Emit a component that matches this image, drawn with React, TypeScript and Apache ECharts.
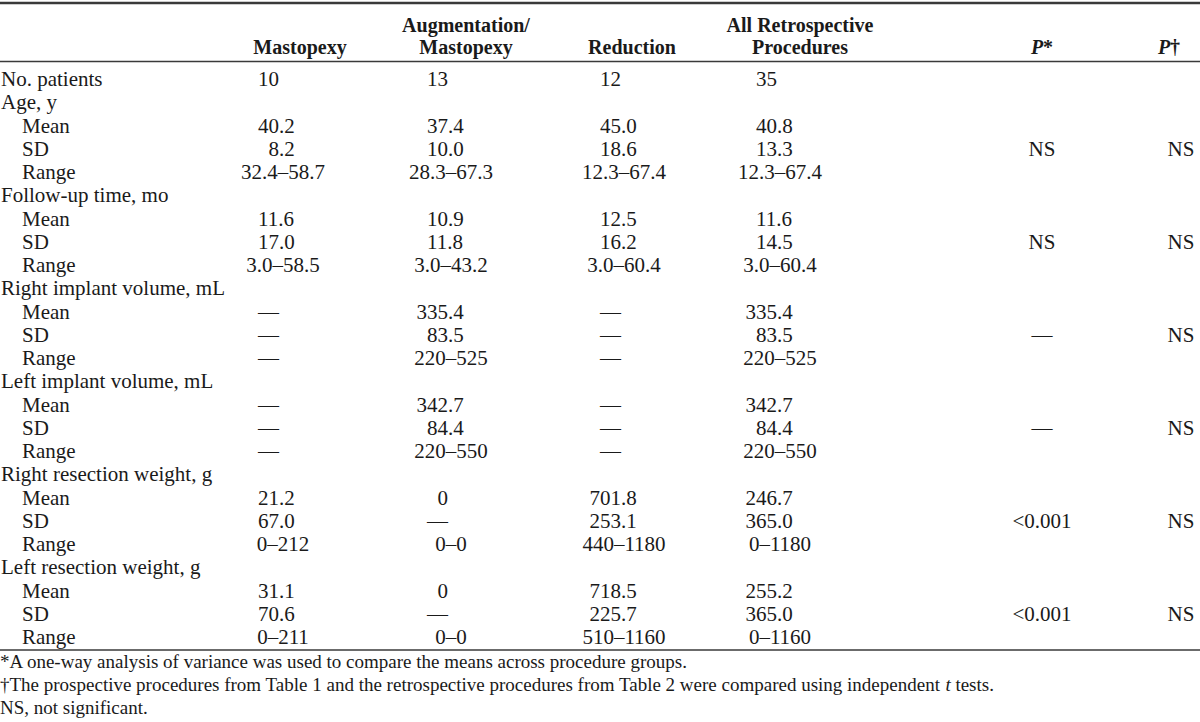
import React, { useEffect, useRef } from "react";
import * as echarts from "echarts";

// ---- Data ----
const headerLine1 = ["", "Augmentation/", "", "All Retrospective", "", ""];
const headerLine2 = ["Mastopexy", "Mastopexy", "Reduction", "Procedures", "{pi|P}{b|*}", "{pi|P}{b|†}"];

const patientsLabel = "No. patients";
const patients = ["10", "13", "12", "35", "", ""];

const groupTitles = [
  "Age, y",
  "Follow-up time, mo",
  "Right implant volume, mL",
  "Left implant volume, mL",
  "Right resection weight, g",
  "Left resection weight, g",
];
const statLabels = ["Mean", "SD", "Range"];

const ageY = [
  ["40.2", "37.4", "45.0", "40.8", "", ""],
  ["8.2", "10.0", "18.6", "13.3", "NS", "NS"],
  ["32.4–58.7", "28.3–67.3", "12.3–67.4", "12.3–67.4", "", ""],
];
const followUp = [
  ["11.6", "10.9", "12.5", "11.6", "", ""],
  ["17.0", "11.8", "16.2", "14.5", "NS", "NS"],
  ["3.0–58.5", "3.0–43.2", "3.0–60.4", "3.0–60.4", "", ""],
];
const rightImplant = [
  ["—", "335.4", "—", "335.4", "", ""],
  ["—", "83.5", "—", "83.5", "—", "NS"],
  ["—", "220–525", "—", "220–525", "", ""],
];
const leftImplant = [
  ["—", "342.7", "—", "342.7", "", ""],
  ["—", "84.4", "—", "84.4", "—", "NS"],
  ["—", "220–550", "—", "220–550", "", ""],
];
const rightResection = [
  ["21.2", "0", "701.8", "246.7", "", ""],
  ["67.0", "—", "253.1", "365.0", "<0.001", "NS"],
  ["0–212", "0–0", "440–1180", "0–1180", "", ""],
];
const leftResection = [
  ["31.1", "0", "718.5", "255.2", "", ""],
  ["70.6", "—", "225.7", "365.0", "<0.001", "NS"],
  ["0–211", "0–0", "510–1160", "0–1160", "", ""],
];
const groupValues = [ageY, followUp, rightImplant, leftImplant, rightResection, leftResection];

const footnotes = [
  "*A one-way analysis of variance was used to compare the means across procedure groups.",
  "†The prospective procedures from Table 1 and the retrospective procedures from Table 2 were compared using independent {i|t} tests.",
  "NS, not significant.",
];

// ---- Layout ----
const FONT = '"Liberation Serif", "Times New Roman", serif';
const FS = 21;
const HEAD_FS = 20;
const FOOT_FS = 19;
const TEXT = "#1a1a1a";
const colDec = [279, 448, 621, 777];
const colCenter = [283, 451, 624, 780, 1042, 1181];
const headCenter = [300, 466, 632, 800, 1042, 1169];
const ROW0 = 79;
const STEP = 23.25;
const HEAD1 = 25;
const HEAD2 = 47;

function cellElement(v: string, col: number, y: number) {
  let x = colCenter[col];
  let align = "center";
  if (col < 4) {
    const d = colDec[col];
    if (v.includes("–")) {
      x = colCenter[col];
      align = "center";
    } else if (v.includes(".")) {
      const nInt = v.split(".")[0].length;
      x = d - nInt * FS * 0.5;
      align = "left";
    } else {
      x = d;
      align = "right";
    }
  }
  return {
    type: "text",
    x,
    y,
    silent: true,
    style: {
      text: v,
      fill: TEXT,
      fontFamily: FONT,
      fontSize: FS,
      align,
      verticalAlign: "middle",
    },
  };
}

function labelElement(t: string, indent: boolean, y: number) {
  return {
    type: "text",
    x: indent ? 22 : 1,
    y,
    silent: true,
    style: { text: t, fill: TEXT, fontFamily: FONT, fontSize: FS, align: "left", verticalAlign: "middle" },
  };
}

function buildElements() {
  const els: any[] = [];
  // rules
  els.push({ type: "line", shape: { x1: 0, y1: 3, x2: 1200, y2: 3 }, style: { stroke: "#3a3a3a", lineWidth: 2.5 } });
  els.push({ type: "line", shape: { x1: 0, y1: 61.5, x2: 1200, y2: 61.5 }, style: { stroke: "#3a3a3a", lineWidth: 1.5 } });
  els.push({ type: "line", shape: { x1: 0, y1: 650, x2: 1200, y2: 650 }, style: { stroke: "#3a3a3a", lineWidth: 1.5 } });

  // header
  headerLine1.forEach((h, i) => {
    if (!h) return;
    els.push({
      type: "text", x: headCenter[i], y: HEAD1, silent: true,
      style: { text: h, fill: TEXT, fontFamily: FONT, fontSize: HEAD_FS, fontWeight: "bold", align: "center", verticalAlign: "middle" },
    });
  });
  headerLine2.forEach((h, i) => {
    els.push({
      type: "text", x: headCenter[i], y: HEAD2, silent: true,
      style: {
        text: h, fill: TEXT, fontFamily: FONT, fontSize: HEAD_FS, fontWeight: "bold", align: "center", verticalAlign: "middle",
        rich: {
          pi: { fontFamily: FONT, fontSize: HEAD_FS, fontWeight: "bold", fontStyle: "italic", fill: TEXT },
          b: { fontFamily: FONT, fontSize: HEAD_FS, fontWeight: "bold", fill: TEXT },
        },
      },
    });
  });

  let r = 0;
  const yOf = (k: number) => ROW0 + k * STEP;
  els.push(labelElement(patientsLabel, false, yOf(r)));
  patients.forEach((v, c) => { if (v) els.push(cellElement(v, c, yOf(r))); });
  r++;
  groupTitles.forEach((g, gi) => {
    els.push(labelElement(g, false, yOf(r)));
    r++;
    groupValues[gi].forEach((row, si) => {
      els.push(labelElement(statLabels[si], true, yOf(r)));
      row.forEach((v, c) => { if (v) els.push(cellElement(v, c, yOf(r))); });
      r++;
    });
  });

  const footY = [661, 684, 707];
  footnotes.forEach((f, i) => {
    els.push({
      type: "text", x: 0, y: footY[i], silent: true,
      style: {
        text: f, fill: TEXT, fontFamily: FONT, fontSize: FOOT_FS, align: "left", verticalAlign: "middle",
        rich: { i: { fontFamily: FONT, fontSize: FOOT_FS, fontStyle: "italic", fill: TEXT } },
      },
    });
  });
  return els;
}

export default function App() {
  const ref = useRef<HTMLDivElement>(null);
  useEffect(() => {
    if (!ref.current) return;
    const chart = echarts.init(ref.current, undefined, { renderer: "svg" });
    chart.setOption({
      animation: false,
      backgroundColor: "#ffffff",
      graphic: { elements: buildElements() },
    });
    return () => chart.dispose();
  }, []);
  return (
    <div
      ref={ref}
      style={{ position: "fixed", left: 0, top: 0, width: 1200, height: 722, background: "#fff" }}
    />
  );
}
